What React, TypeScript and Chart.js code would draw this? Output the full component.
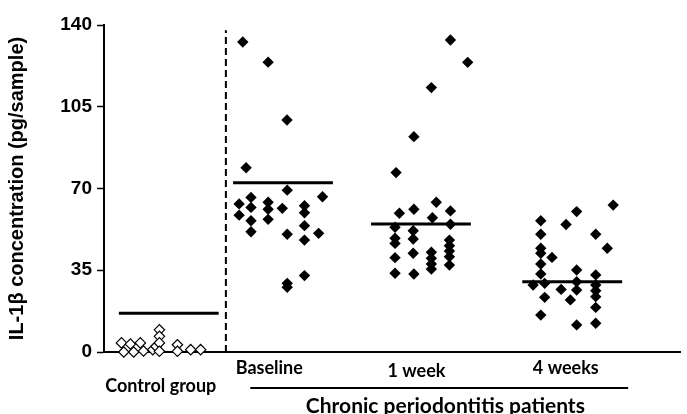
import React, { useEffect, useRef } from 'react';
import { Chart, registerables } from 'chart.js';

Chart.register(...registerables);

// ---- data ----
const categories = ['Control group', 'Baseline', '1 week', '4 weeks'];
const groupTitle = 'Chronic periodontitis patients';
const yTitle = 'IL-1β concentration (pg/sample)';
const yTicks = [0, 35, 70, 105, 140];
const groupPositions = [0, 1, 2.208, 3.532];
const meanValues = [16.6, 72.5, 54.8, 30.1];

const controlValues = [3.9, 0, 3.4, 0, 3.9, 0.4, 1, 2.4, 9.5, 6.7, 3.9, 0.3, 3.1, 0.3, 1, 1];
const controlJitter = [-0.414, -0.394, -0.336, -0.307, -0.249, -0.221, -0.14, -0.111, -0.082, -0.082, -0.082, -0.082, 0.076, 0.076, 0.192, 0.279];

const baselineValues = [132.7, 124.1, 99.3, 78.9, 69.3, 66.2, 66.5, 63.4, 61.9, 64.1, 61.1, 61.5, 62.6, 59.6, 58.6, 56.2, 56.8, 54.1, 51.5, 50.4, 50.8, 47.9, 32.7, 29.4, 27.7];
const baselineJitter = [-0.352, -0.13, 0.035, -0.323, 0.037, -0.28, 0.346, -0.384, -0.28, -0.13, -0.13, -0.006, 0.188, 0.188, -0.384, -0.28, -0.13, 0.188, -0.28, 0.037, 0.312, 0.188, 0.188, 0.037, 0.037];

const week1Values = [133.6, 124, 113.2, 92.2, 76.8, 64.1, 59.4, 61.1, 57.5, 60.4, 53.4, 54.7, 48.7, 46.5, 51.9, 48.4, 42.3, 40.4, 42.7, 40.1, 37.7, 35.5, 47.9, 45.5, 43.2, 40.8, 37.2, 33.7, 33.4];
const week1Jitter = [0.258, 0.409, 0.091, -0.062, -0.218, 0.134, -0.189, -0.062, 0.1, 0.258, -0.227, 0.258, -0.227, -0.227, -0.068, -0.068, -0.068, -0.227, 0.091, 0.091, 0.091, 0.091, 0.249, 0.249, 0.249, 0.249, 0.249, -0.227, -0.062];

const week4Values = [62.9, 60.1, 56.2, 54.6, 50.4, 50.4, 44.4, 44.4, 42.3, 40.5, 37.7, 33.4, 35.1, 33, 28.7, 29.4, 26.8, 30.1, 26.5, 28.7, 26.2, 23.7, 23.4, 22.3, 19.1, 15.8, 11.6, 12.3];
const week4Jitter = [0.359, 0.039, -0.275, -0.054, -0.275, 0.206, 0.307, -0.275, -0.275, -0.177, -0.275, -0.275, 0.039, 0.206, -0.342, -0.241, -0.097, 0.039, 0.039, 0.206, 0.206, 0.206, -0.241, -0.016, 0.206, -0.275, 0.039, 0.206];

const patientValues = [baselineValues, week1Values, week4Values];
const patientJitter = [baselineJitter, week1Jitter, week4Jitter];

export default function App() {
  const ref = useRef<HTMLCanvasElement>(null);

  useEffect(() => {
    const canvas = ref.current;
    if (!canvas) return;

    const pts = (vals: number[], jit: number[], g: number) =>
      vals.map((v, i) => ({ x: groupPositions[g] + jit[i], y: v }));

    const meanHalf = 0.437;
    const datasets: any[] = [];

    datasets.push({
      type: 'scatter',
      label: categories[0],
      data: pts(controlValues, controlJitter, 0),
      pointStyle: 'rectRot',
      pointRadius: 5.2,
      backgroundColor: '#ffffff',
      borderColor: '#000000',
      borderWidth: 1.2,
      clip: false,
      order: 2,
    });
    patientValues.forEach((vals, k) => {
      datasets.push({
        type: 'scatter',
        label: categories[k + 1],
        data: pts(vals, patientJitter[k], k + 1),
        pointStyle: 'rectRot',
        pointRadius: 5.7,
        backgroundColor: '#000000',
        borderColor: '#000000',
        borderWidth: 0,
        clip: false,
        order: 2,
      });
    });
    meanValues.forEach((m, g) => {
      datasets.push({
        type: 'line',
        label: 'mean ' + categories[g],
        data: [
          { x: groupPositions[g] - meanHalf, y: m },
          { x: groupPositions[g] + meanHalf, y: m },
        ],
        borderColor: '#000000',
        borderWidth: 3,
        pointRadius: 0,
        clip: false,
        order: 1,
      });
    });
    datasets.push({
      type: 'line',
      label: 'separator',
      data: [
        { x: (groupPositions[0] + groupPositions[1]) / 2, y: 0 },
        { x: (groupPositions[0] + groupPositions[1]) / 2, y: 137.8 },
      ],
      borderColor: '#000000',
      borderWidth: 2,
      borderDash: [7, 4],
      pointRadius: 0,
      clip: false,
      order: 3,
    });

    const labelsPlugin = {
      id: 'groupLabels',
      afterDraw(chart: any) {
        const c = chart.ctx;
        const xs = chart.scales.x;
        c.save();
        c.fillStyle = '#000';
        c.strokeStyle = '#000';
        c.font = 'bold 18px Lato';
        c.textAlign = 'center';
        c.textBaseline = 'alphabetic';
        const labelShift = [-0.07, -0.12, -0.04, -0.056];
        const labelBase = [392, 374, 377, 374];
        categories.forEach((cat, i) => {
          c.fillText(cat, xs.getPixelForValue(groupPositions[i] + labelShift[i]), labelBase[i]);
        });
        // bracket line under the patient groups
        const x1 = xs.getPixelForValue(0.714);
        const x2 = xs.getPixelForValue(4.022);
        c.lineWidth = 2;
        c.beginPath();
        c.moveTo(x1, 388);
        c.lineTo(x2, 388);
        c.stroke();
        c.font = 'bold 21px Lato';
        c.textAlign = 'left';
        c.fillText(groupTitle, xs.getPixelForValue(1.2), 413);
        c.restore();
      },
    };

    const chart = new Chart(canvas, {
      type: 'scatter',
      data: { datasets },
      plugins: [labelsPlugin],
      options: {
        animation: false,
        responsive: true,
        maintainAspectRatio: false,
        layout: { padding: { left: 0, right: 0, top: 25, bottom: 0 } },
        plugins: { legend: { display: false }, tooltip: { enabled: false } },
        scales: {
          x: {
            type: 'linear',
            min: -0.567,
            max: 4.481,
            ticks: { display: false },
            grid: { display: false, drawOnChartArea: false, drawTicks: false },
            border: { display: true, color: '#000', width: 2 },
            afterFit: (s: any) => {
              s.height = 62;
            },
          },
          y: {
            min: 0,
            max: 140,
            afterBuildTicks: (s: any) => {
              s.ticks = yTicks.map((v) => ({ value: v }));
            },
            ticks: {
              color: '#000',
              font: { family: 'Liberation Sans', size: 19, weight: 'bold' },
              padding: 5,
            },
            grid: {
              display: true,
              drawOnChartArea: false,
              drawTicks: true,
              tickLength: 7,
              tickColor: '#000',
              tickWidth: 1.5,
            },
            border: { display: true, color: '#000', width: 2 },
            title: {
              display: true,
              text: yTitle,
              color: '#000',
              font: { family: 'Liberation Sans', size: 20, weight: 'bold' },
              padding: { top: 5, bottom: 0 },
            },
            afterFit: (s: any) => {
              s.width = 104;
            },
          },
        },
      },
    });

    return () => chart.destroy();
  }, []);

  return (
    <div style={{ position: 'fixed', left: 0, top: 0, width: 687, height: 414, background: '#fff' }}>
      <canvas ref={ref} />
    </div>
  );
}
